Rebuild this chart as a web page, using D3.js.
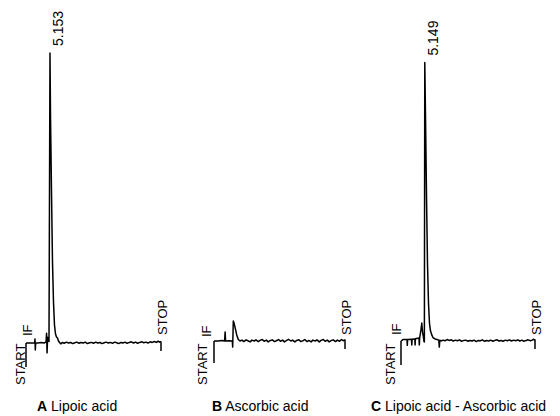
<!DOCTYPE html>
<html>
<head>
<meta charset="utf-8">
<script src="https://cdn.jsdelivr.net/npm/d3@7"></script>
<style>
  body { margin: 0; background: #fff; }
  svg { display: block; font-family: "Liberation Sans", Arial, sans-serif; }
  .trace { fill: none; stroke: #000; stroke-width: 1.5; stroke-linejoin: round; }
  .marker { stroke: #000; stroke-width: 1.5; }
</style>
</head>
<body>
<div class="chart"></div>
<script>
const svgWidth = 560
const svgHeight = 416

// run time (min) and detector signal (relative units, lipoic acid peak = 100)
const runEnd = 29.0

const lipoicTrace = [
  [0, 0], [0.86, 0], [1.85, 0], [1.93, 1.4], [2.0, -2.4], [2.08, 0], [2.58, 0],
  [3.22, 0.2], [3.87, 0], [4.30, 0.3], [4.42, 3.4], [4.53, -3.4], [4.64, 2.0],
  [4.81, 1.0], [4.94, 0.5], [5.153, 100], [5.26, 79], [5.48, 52], [5.69, 28],
  [5.91, 14], [6.12, 6.2], [6.34, 3.1], [6.55, 2.1], [6.77, 1.7], [6.98, 0.7],
  [7.30, 0], [7.52, -0.3],
  [7.8, 0.2], [8.2, -0.1], [8.7, 0.3], [9.1, 0], [9.6, 0.2], [10.0, -0.2], [10.5, 0.1],
  [10.9, 0.3], [11.4, -0.1], [11.8, 0.2], [12.3, 0], [12.7, 0.3], [13.2, -0.2],
  [13.6, 0.1], [14.1, 0.2], [14.5, -0.1], [15.0, 0.3], [15.4, 0], [15.9, 0.2],
  [16.3, -0.2], [16.8, 0.1], [17.2, 0.3], [17.7, 0], [18.1, 0.2], [18.6, -0.1],
  [19.0, 0.3], [19.5, 0.1], [19.9, -0.2], [20.4, 0.2], [20.8, 0], [21.3, 0.3],
  [21.7, -0.1], [22.2, 0.2], [22.6, 0.4], [23.1, 0], [23.5, 0.3], [24.0, -0.1],
  [24.4, 0.2], [24.9, 0.4], [25.3, 0.1], [25.8, 0.3], [26.2, 0], [26.7, 0.4],
  [27.1, 0.2], [27.6, 0.5], [28.0, 0.2], [28.4, 0.6], [28.7, 0.3], [29.0, 0.5]
]

const ascorbicTrace = [
  [0, 0], [0.89, 0], [1.77, 0.2], [2.35, 0], [2.46, 3.1], [2.57, 0], [3.32, 0.1],
  [4.05, 0], [4.14, -2.1], [4.27, 6.9], [4.43, 6.2], [4.65, 4.8], [5.03, 2.1],
  [5.38, 0.5], [5.76, 0],
  [6.2, 0.3], [6.6, -0.2], [7.1, 0.4], [7.5, 0.1], [8.0, -0.3], [8.4, 0.3], [8.9, 0],
  [9.3, 0.4], [9.8, -0.2], [10.2, 0.2], [10.7, 0.5], [11.1, -0.1], [11.6, 0.3],
  [12.0, -0.3], [12.5, 0.2], [12.9, 0.4], [13.4, -0.2], [13.8, 0.1], [14.3, 0.5],
  [14.7, -0.1], [15.2, 0.3], [15.6, -0.3], [16.1, 0.2], [16.5, 0.6], [17.0, 0],
  [17.4, 0.3], [17.9, -0.3], [18.3, 0.2], [18.8, 0.4], [19.2, -0.2], [19.7, 0.1],
  [20.1, 0.5], [20.6, -0.2], [21.0, 0.2], [21.5, -0.3], [21.9, 0.3], [22.4, 0],
  [22.8, 0.4], [23.3, -0.3], [23.7, 0.2], [24.2, 0.5], [24.6, -0.1], [25.1, 0.3],
  [25.5, -0.3], [26.0, 0.2], [26.4, 0.4], [26.9, -0.2], [27.3, 0.3], [27.8, -0.1],
  [28.2, 0.5], [28.6, 0.1], [29.0, 0.4]
]

const mixTrace = [
  [0, 0], [0.43, 0.5], [1.30, 0.5], [1.36, -1.5], [1.43, 0.5], [2.27, 0.6],
  [2.34, -1.4], [2.40, 0.6], [2.99, 0.7], [3.05, -1.4], [3.12, 0.8], [3.90, 1.0],
  [3.96, -1.4], [4.05, 1.2], [4.33, 4], [4.50, 6.2], [4.67, 3], [4.83, 1.5],
  [4.98, -0.2], [5.06, -0.3], [5.149, 96], [5.30, 78], [5.52, 50], [5.73, 27],
  [5.95, 13], [6.17, 6], [6.38, 3.5], [6.64, 2.2], [6.92, 1.2], [7.36, 0.7],
  [7.79, 0.5], [8.18, 0.3], [8.29, -2.1], [8.40, 0.3], [8.66, 0],
  [9.1, 0.3], [9.5, 0.1], [10.0, 0.5], [10.4, 0.2], [10.9, 0.4], [11.3, 0], [11.8, 0.3],
  [12.2, 0.1], [12.7, 0.4], [13.1, -0.1], [13.6, 0.2], [14.0, 0.3], [14.5, -0.1],
  [14.9, 0.2], [15.4, 0], [15.8, 0.3], [16.3, -0.2], [16.7, 0.2], [17.2, 0.1],
  [17.6, 0.4], [18.1, -0.1], [18.5, 0.2], [19.0, 0], [19.4, 0.3], [19.9, -0.1],
  [20.3, 0.2], [20.8, 0.4], [21.2, 0], [21.7, 0.2], [22.1, -0.1], [22.6, 0.3],
  [23.0, 0.1], [23.5, 0.4], [23.9, 0], [24.4, 0.3], [24.8, 0.1], [25.3, 0.4],
  [25.7, 0], [26.2, 0.3], [26.6, -0.1], [27.1, 0.2], [27.5, 0.4], [28.0, 0.1],
  [28.4, 0.3], [28.7, 0.6], [29.0, 0.2]
]

const letters = ["A", "B", "C"]
const titles = ["Lipoic acid", "Ascorbic acid", "Lipoic acid - Ascorbic acid"]
const traces = [lipoicTrace, ascorbicTrace, mixTrace]
// labelled peaks: [time, height] or null
const peaks = [[5.153, 100], null, [5.149, 96]]

// layout of the three panels
const panels = [
  { x0: 26, x1: 161, base: 343, startLen: 24, startLbl: 24.5, ifLbl: [32, 336], titleX: 37 },
  { x0: 214, x1: 345, base: 341, startLen: 22, startLbl: 207, ifLbl: [211, 337], titleX: 212 },
  { x0: 401, x1: 535, base: 341, startLen: 24, startLbl: 395, ifLbl: [400.5, 335], titleX: 371 }
]

let svg = d3
  .select(".chart")
  .append("svg")
  .attr("width", svgWidth)
  .attr("height", svgHeight)

panels.forEach((p, i) => {
  let xScale = d3.scaleLinear().domain([0, runEnd]).range([p.x0, p.x1])
  let yScale = d3.scaleLinear().domain([0, 100]).range([p.base, p.base - 290])

  let g = svg.append("g")

  let line = d3.line()
    .x(d => xScale(d[0]))
    .y(d => yScale(d[1]))

  g.append("path")
    .datum(traces[i])
    .attr("class", "trace")
    .attr("d", line)

  // START and STOP marks
  g.append("line")
    .attr("class", "marker")
    .attr("x1", xScale(0)).attr("x2", xScale(0))
    .attr("y1", yScale(0)).attr("y2", yScale(0) + p.startLen)

  g.append("line")
    .attr("class", "marker")
    .attr("x1", xScale(runEnd)).attr("x2", xScale(runEnd))
    .attr("y1", yScale(0) - 1.5).attr("y2", yScale(0) + 8)

  g.append("text")
    .attr("transform", `translate(${p.startLbl}, 385) rotate(-90)`)
    .attr("font-size", "13px")
    .text("START")

  g.append("text")
    .attr("transform", `translate(${p.ifLbl[0]}, ${p.ifLbl[1]}) rotate(-90)`)
    .attr("font-size", "13px")
    .text("IF")

  g.append("text")
    .attr("transform", `translate(${xScale(runEnd) + 6}, 335) rotate(-90)`)
    .attr("font-size", "13px")
    .text("STOP")

  if (peaks[i]) {
    let pk = peaks[i]
    g.append("text")
      .attr("transform", `translate(${xScale(pk[0]) + 13}, ${yScale(pk[1]) - 7}) rotate(-90)`)
      .attr("font-size", "14px")
      .text(pk[0].toFixed(3))
  }

  let title = g.append("text")
    .attr("x", p.titleX)
    .attr("y", 411)
    .attr("font-size", "14px")
  title.append("tspan").attr("font-weight", "bold").text(letters[i])
  title.append("tspan").text(" " + titles[i])
})
</script>
</body>
</html>
